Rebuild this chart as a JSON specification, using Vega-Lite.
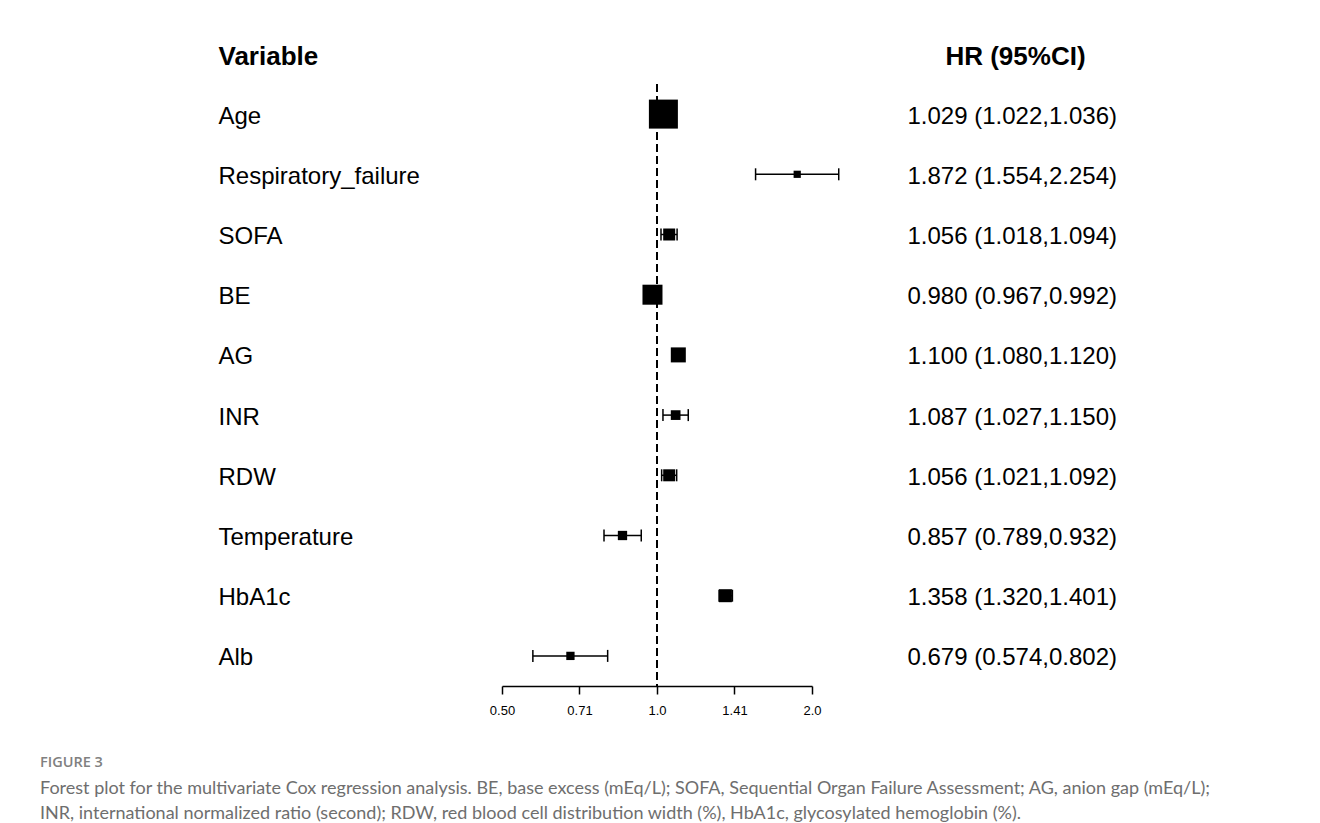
{
  "$schema": "https://vega.github.io/schema/vega-lite/v6.json",
  "width": 310,
  "height": 602,
  "autosize": {"type": "none"},
  "padding": {"left": 502, "top": 84, "right": 508, "bottom": 137},
  "background": "white",
  "config": {"view": {"stroke": null}, "font": "Liberation Sans"},
  "data": {
    "values": [
      {"variable": "Age", "hr": 1.029, "lower": 1.022, "upper": 1.036, "weight": 100, "hr_text": "1.029 (1.022,1.036)"},
      {"variable": "Respiratory_failure", "hr": 1.872, "lower": 1.554, "upper": 2.254, "weight": 6.2, "hr_text": "1.872 (1.554,2.254)"},
      {"variable": "SOFA", "hr": 1.056, "lower": 1.018, "upper": 1.094, "weight": 17.1, "hr_text": "1.056 (1.018,1.094)"},
      {"variable": "BE", "hr": 0.98, "lower": 0.967, "upper": 0.992, "weight": 47.6, "hr_text": "0.980 (0.967,0.992)"},
      {"variable": "AG", "hr": 1.1, "lower": 1.08, "upper": 1.12, "weight": 26.8, "hr_text": "1.100 (1.080,1.120)"},
      {"variable": "INR", "hr": 1.087, "lower": 1.027, "upper": 1.15, "weight": 11.2, "hr_text": "1.087 (1.027,1.150)"},
      {"variable": "RDW", "hr": 1.056, "lower": 1.021, "upper": 1.092, "weight": 17.1, "hr_text": "1.056 (1.021,1.092)"},
      {"variable": "Temperature", "hr": 0.857, "lower": 0.789, "upper": 0.932, "weight": 10.3, "hr_text": "0.857 (0.789,0.932)"},
      {"variable": "HbA1c", "hr": 1.358, "lower": 1.32, "upper": 1.401, "weight": 20.1, "hr_text": "1.358 (1.320,1.401)"},
      {"variable": "Alb", "hr": 0.679, "lower": 0.574, "upper": 0.802, "weight": 8.2, "hr_text": "0.679 (0.574,0.802)"}
    ]
  },
  "title": {
    "text": "FIGURE 3",
    "subtitle": [
      "Forest plot for the multivariate Cox regression analysis. BE, base excess (mEq/L); SOFA, Sequential Organ Failure Assessment; AG, anion gap (mEq/L);",
      "INR, international normalized ratio (second); RDW, red blood cell distribution width (%), HbA1c, glycosylated hemoglobin (%)."
    ],
    "orient": "bottom",
    "anchor": "start",
    "frame": "group",
    "dx": -462,
    "offset": 39,
    "font": "Open Sans",
    "fontSize": 14.5,
    "fontWeight": 600,
    "color": "#808080",
    "subtitleFont": "Lato",
    "subtitleFontSize": 18,
    "subtitleColor": "#6e6e6e",
    "subtitleLineHeight": 25,
    "subtitlePadding": 9
  },
  "layer": [
    {
      "layer": [
        {
          "mark": {"type": "rule", "strokeDash": [8, 4], "strokeWidth": 2, "color": "black"},
          "encoding": {
            "x": {
              "datum": 1,
              "type": "quantitative",
              "scale": {"type": "log", "base": 2, "domain": [0.5, 2], "nice": false, "zero": false},
              "axis": {
                "values": [0.5, 0.7071, 1, 1.4142, 2],
                "labelExpr": "datum.value == 0.5 ? '0.50' : datum.value == 1 ? '1.0' : datum.value == 2 ? '2.0' : format(datum.value, '.2f')",
                "title": null,
                "grid": false,
                "domainColor": "black",
                "domainWidth": 1.5,
                "tickColor": "black",
                "tickWidth": 1.5,
                "tickSize": 8,
                "labelFontSize": 13,
                "labelColor": "black",
                "labelPadding": 10,
                "labelFlush": false,
                "labelOverlap": false
              }
            }
          }
        },
        {
          "mark": {"type": "rule", "strokeWidth": 1.5, "color": "black"},
          "encoding": {
            "y": {
              "field": "variable",
              "type": "nominal",
              "sort": null,
              "scale": {"type": "point", "padding": 0.5},
              "axis": {
                "orient": "left",
                "title": "Variable",
                "titleAngle": 0,
                "titleAlign": "left",
                "titleBaseline": "alphabetic",
                "titleX": -284,
                "titleY": -20,
                "titleFontSize": 26,
                "titleFontWeight": "bold",
                "titleColor": "black",
                "labelAlign": "left",
                "labelBaseline": "middle",
                "labelPadding": 284,
                "labelOffset": 2,
                "labelFontSize": 24,
                "labelColor": "black",
                "labelLimit": 500,
                "labelOverlap": false,
                "ticks": false,
                "tickSize": 0,
                "domain": false,
                "grid": false
              }
            },
            "x": {"field": "lower", "type": "quantitative", "scale": {"type": "log", "base": 2, "domain": [0.5, 2], "nice": false, "zero": false}},
            "x2": {"field": "upper"}
          }
        },
        {
          "mark": {"type": "tick", "orient": "vertical", "size": 12, "thickness": 1.5, "color": "black", "opacity": 1},
          "encoding": {
            "y": {"field": "variable", "type": "nominal", "sort": null, "scale": {"type": "point", "padding": 0.5}},
            "x": {"field": "lower", "type": "quantitative", "scale": {"type": "log", "base": 2, "domain": [0.5, 2], "nice": false, "zero": false}}
          }
        },
        {
          "mark": {"type": "tick", "orient": "vertical", "size": 12, "thickness": 1.5, "color": "black", "opacity": 1},
          "encoding": {
            "y": {"field": "variable", "type": "nominal", "sort": null, "scale": {"type": "point", "padding": 0.5}},
            "x": {"field": "upper", "type": "quantitative", "scale": {"type": "log", "base": 2, "domain": [0.5, 2], "nice": false, "zero": false}}
          }
        }
      ]
    },
    {
      "mark": {"type": "square", "filled": true, "color": "black", "opacity": 1},
      "encoding": {
        "y": {
          "field": "hr_text",
          "type": "nominal",
          "sort": null,
          "scale": {"type": "point", "padding": 0.5},
          "axis": {
            "orient": "right",
            "title": "HR (95%CI)",
            "titleAngle": 0,
            "titleAlign": "center",
            "titleBaseline": "alphabetic",
            "titleX": 203,
            "titleY": -20,
            "titleFontSize": 26,
            "titleFontWeight": "bold",
            "titleColor": "black",
            "labelAlign": "left",
            "labelBaseline": "middle",
            "labelPadding": 95,
            "labelOffset": 2,
            "labelFontSize": 24,
            "labelColor": "black",
            "labelLimit": 500,
            "labelOverlap": false,
            "ticks": false,
            "tickSize": 0,
            "domain": false,
            "grid": false
          }
        },
        "x": {"field": "hr", "type": "quantitative", "scale": {"type": "log", "base": 2, "domain": [0.5, 2], "nice": false, "zero": false}},
        "size": {"field": "weight", "type": "quantitative", "scale": {"domain": [0, 100], "range": [0, 841], "zero": true}, "legend": null}
      }
    }
  ],
  "resolve": {"scale": {"y": "independent"}}
}
